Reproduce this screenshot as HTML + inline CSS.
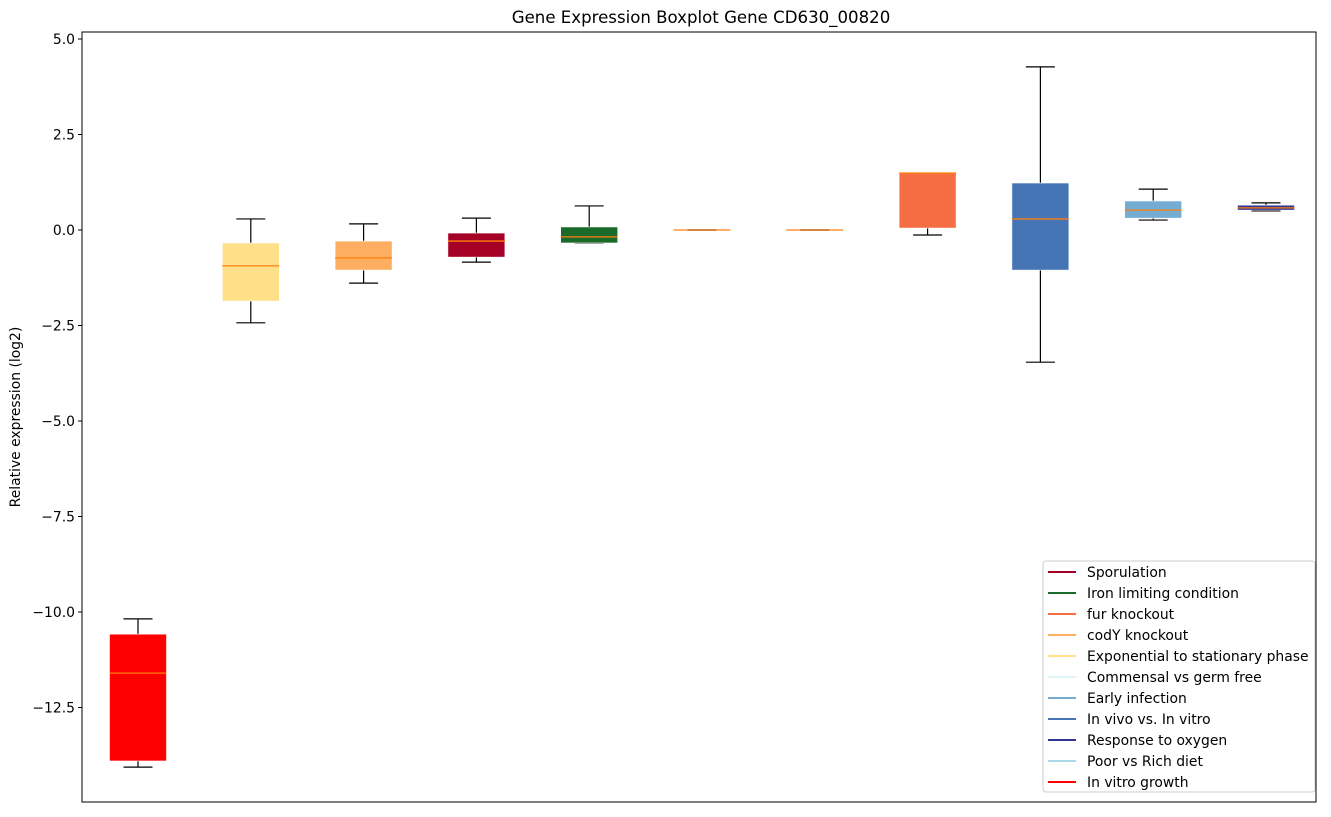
<!DOCTYPE html>
<html><head><meta charset="utf-8"><style>
body{margin:0;background:#fff;font-family:"Liberation Sans","DejaVu Sans",sans-serif;}
svg text{font-family:"DejaVu Sans","Liberation Sans",sans-serif;}
</style></head><body>
<svg id="chart" width="1331" height="812" xmlns="http://www.w3.org/2000/svg">
<rect x="0" y="0" width="1331" height="812" fill="#fff"/>
<text x="701" y="23" font-size="16.6" text-anchor="middle">Gene Expression Boxplot Gene CD630_00820</text>
<text transform="translate(20,417) rotate(-90)" font-size="13.9" text-anchor="middle">Relative expression (log2)</text>
<g id="yticks"></g>
<g id="boxes"></g>
<rect x="82" y="32" width="1234" height="770" fill="none" stroke="#000" stroke-width="1"/>
<g id="legend"></g>
</svg>
<script>
const categories=["In vitro growth","Exponential to stationary phase","codY knockout","Sporulation","Iron limiting condition","Commensal vs germ free","Poor vs Rich diet","fur knockout","In vivo vs. In vitro","Early infection","Response to oxygen"];
const boxColors=["#ff0000","#fee08b","#fdae61","#a50026","#1a6b2a","#e0f3f8","#abd9e9","#f46d43","#4575b4","#74add1","#313695"];
const whiskerHigh=[-10.18,0.29,0.16,0.31,0.63,0,0,1.49,4.27,1.07,0.71];
const q3=[-10.58,-0.34,-0.29,-0.08,0.08,0,0,1.49,1.23,0.76,0.65];
const medians=[-11.60,-0.94,-0.73,-0.29,-0.18,0,0,1.49,0.29,0.52,0.58];
const q1=[-13.90,-1.86,-1.05,-0.71,-0.34,0,0,0.05,-1.05,0.31,0.52];
const whiskerLow=[-14.06,-2.43,-1.39,-0.84,-0.34,0,0,-0.13,-3.46,0.26,0.50];
const yTicks=[5.0,2.5,0,-2.5,-5.0,-7.5,-10.0,-12.5];
const yTickLabels=["5.0","2.5","0.0","\u22122.5","\u22125.0","\u22127.5","\u221210.0","\u221212.5"];
const legendLabels=["Sporulation","Iron limiting condition","fur knockout","codY knockout","Exponential to stationary phase","Commensal vs germ free","Early infection","In vivo vs. In vitro","Response to oxygen","Poor vs Rich diet","In vitro growth"];
const legendColors=["#a50026","#1a6b2a","#f46d43","#fdae61","#fee08b","#e0f3f8","#74add1","#4575b4","#313695","#abd9e9","#ff0000"];

const NS="http://www.w3.org/2000/svg";
function y(v){return 230-38.2*v;}
function x(i){return 138+112.8*i;}
function mk(tag,attrs,parent){const e=document.createElementNS(NS,tag);for(const k in attrs)e.setAttribute(k,attrs[k]);parent.appendChild(e);return e;}
const yt=document.getElementById('yticks');
yTicks.forEach((v,i)=>{
  const t=mk('line',{x1:78,x2:82,y1:y(v),y2:y(v),stroke:'#000'},yt);
  
  
  const l=mk('text',{x:75,y:y(v)+5,'font-size':13.9,'text-anchor':'end'},yt);
  l.textContent=yTickLabels[i];
  
  
});
const bx=document.getElementById('boxes');
categories.forEach((c,i)=>{
  const g=mk('g',{},bx);
  
  
  const cx=x(i),hw=28.5,cw=14.5;
  mk('line',{x1:cx,x2:cx,y1:y(whiskerHigh[i]),y2:y(q3[i]),stroke:'#000','stroke-width':1.2},g);
  mk('line',{x1:cx,x2:cx,y1:y(q1[i]),y2:y(whiskerLow[i]),stroke:'#000','stroke-width':1.2},g);
  mk('line',{x1:cx-cw,x2:cx+cw,y1:y(whiskerHigh[i]),y2:y(whiskerHigh[i]),stroke:'#000','stroke-width':1.2},g);
  mk('line',{x1:cx-cw,x2:cx+cw,y1:y(whiskerLow[i]),y2:y(whiskerLow[i]),stroke:'#000','stroke-width':1.2},g);
  const top=y(q3[i]),bot=y(q1[i]);
  mk('rect',{x:cx-hw,y:top,width:2*hw,height:Math.max(bot-top,0.5),fill:boxColors[i],stroke:boxColors[i]==="#e0f3f8"||boxColors[i]==="#abd9e9"?'none':'#fff','stroke-width':0.6},g);
  mk('line',{x1:cx-hw,x2:cx+hw,y1:y(medians[i]),y2:y(medians[i]),stroke:'#ff7f0e','stroke-width':1.3},g);
});
const lg=document.getElementById('legend');
const box=mk('rect',{x:1043,y:561,width:272,height:231,fill:'#fff','fill-opacity':0.8,stroke:'#ccc',rx:3},lg);


legendLabels.forEach((l,i)=>{
  const g=mk('g',{},lg);
  
  
  const yy=572+21*i;
  mk('line',{x1:1048,x2:1076,y1:yy,y2:yy,stroke:legendColors[i],'stroke-width':2},g);
  const t=mk('text',{x:1087,y:yy+5,'font-size':13.9},g);
  t.textContent=l;
});
</script>
</body></html>
